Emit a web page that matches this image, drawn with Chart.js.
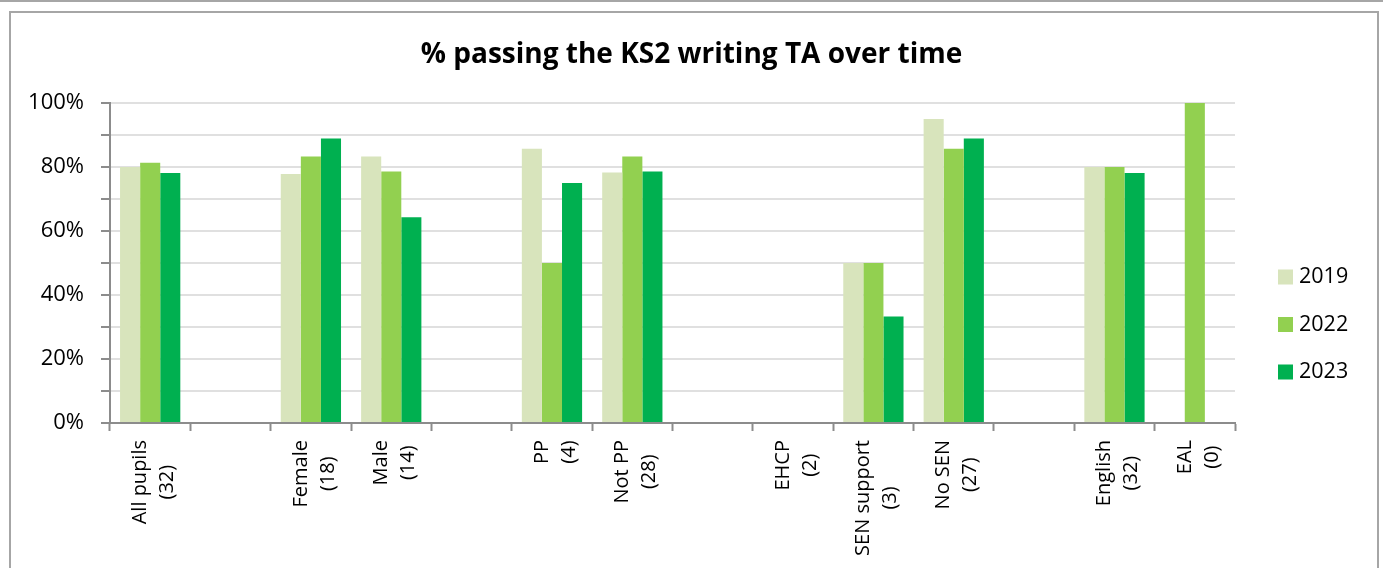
<!DOCTYPE html>
<html>
<head>
<meta charset="utf-8">
<script src="https://cdn.jsdelivr.net/npm/chart.js@4/dist/chart.umd.min.js"></script>
<style>
  html, body { margin: 0; padding: 0; background: #fff; }
  #wrap { position: relative; width: 1383px; height: 568px; overflow: hidden; }
  #topline { position: absolute; left: 0; top: 0; width: 1383px; height: 0; border-top: 2px solid #a6a6a6; }
  #topline2 { position: absolute; left: 1px; top: 0; width: 0; height: 2px; border-left: 2px solid #a6a6a6; }
  #frame { position: absolute; left: 9px; top: 11px; width: 1366px; height: 600px; border: 2px solid #a6a6a6; }
  canvas { position: absolute; left: 0; top: 0; }
</style>
</head>
<body>
<div id="wrap">
  <div id="topline"></div>
  <div id="topline2"></div>
  <div id="frame"></div>
  <canvas id="chart" width="1383" height="568"></canvas>
</div>
<script>
// category labels (blank slots separate the groups)
const categories = [
    ['All pupils', '(32)'], '', ['Female', '(18)'], ['Male', '(14)'], '',
    ['PP', '(4)'], ['Not PP', '(28)'], '', ['EHCP', '(2)'], ['SEN support', '(3)'],
    ['No SEN', '(27)'], '', ['English', '(32)'], ['EAL', '(0)']
];

const years = ['2019', '2022', '2023'];
const colors = ['#d8e4bc', '#92d050', '#00b050'];

const values2019 = [80, null, 77.8, 83.3, null, 85.7, 78.3, null, null, 50, 95, null, 80, null];
const values2022 = [81.3, null, 83.3, 78.6, null, 50, 83.3, null, null, 50, 85.7, null, 80, 100];
const values2023 = [78.1, null, 88.9, 64.3, null, 75, 78.6, null, null, 33.3, 88.9, null, 78.1, null];

const yTicks = [0, 20, 40, 60, 80, 100];

const chartTitle = '% passing the KS2 writing TA over time';

const FONT = "'Open Sans', 'Noto Sans', sans-serif";

// title centred on the whole canvas, legend on the right
const decorations = {
    id: 'decorations',
    afterDraw(chart) {
        const ctx = chart.ctx;
        ctx.save();
        ctx.fillStyle = '#000';
        ctx.font = 'bold 28px ' + FONT;
        ctx.textAlign = 'center';
        ctx.textBaseline = 'middle';
        ctx.fillText(chartTitle, chart.width / 2, 55);

        ctx.font = '21.5px ' + FONT;
        ctx.textAlign = 'left';
        chart.data.datasets.forEach((ds, i) => {
            const y = 277 + i * 47.5;
            ctx.fillStyle = ds.backgroundColor;
            ctx.fillRect(1278, y - 7.5, 15, 15);
            ctx.fillStyle = '#000';
            ctx.fillText(ds.label, 1299, y);
        });
        ctx.restore();
    }
};

// rotated category labels, lines centred on each other like the original
const xLabels = {
    id: 'xLabels',
    afterDraw(chart) {
        const scale = chart.scales.x;
        const ctx = chart.ctx;
        const lineH = 27;
        ctx.save();
        ctx.font = '20px ' + FONT;
        ctx.fillStyle = '#000';
        ctx.textAlign = 'center';
        ctx.textBaseline = 'middle';
        chart.data.labels.forEach((lab, i) => {
            if (!lab) return;
            const lines = Array.isArray(lab) ? lab : [lab];
            const maxW = Math.max(...lines.map(l => ctx.measureText(l).width));
            const cx = scale.getPixelForTick(i) + 3.5;
            const cy = scale.top + 17 + maxW / 2;
            lines.forEach((line, j) => {
                const x = cx + (j - (lines.length - 1) / 2) * lineH;
                ctx.save();
                ctx.translate(x, cy);
                ctx.rotate(-Math.PI / 2);
                ctx.fillText(line, 0, 0);
                ctx.restore();
            });
        });
        ctx.restore();
    }
};

const datasets = [values2019, values2022, values2023].map((vals, i) => ({
    label: years[i],
    data: vals,
    backgroundColor: colors[i],
    borderWidth: 0,
    categoryPercentage: 0.75,
    barPercentage: 1.0
}));

const ctx = document.getElementById('chart').getContext('2d');
new Chart(ctx, {
    type: 'bar',
    data: { labels: categories, datasets: datasets },
    options: {
        responsive: false,
        animation: false,
        layout: { padding: { left: 10, right: 148, top: 103, bottom: 0 } },
        plugins: {
            legend: { display: false },
            tooltip: { enabled: false },
            title: { display: false }
        },
        scales: {
            x: {
                afterFit(scale) { scale.height = 145; },
                grid: {
                    offset: true,
                    drawOnChartArea: false,
                    drawTicks: true,
                    tickLength: 8,
                    tickColor: '#8c8c8c',
                    tickWidth: 2
                },
                border: { color: '#8c8c8c', width: 2 },
                ticks: { display: false, autoSkip: false }
            },
            y: {
                min: 0,
                max: 100,
                afterFit(scale) { scale.width = 100; },
                afterBuildTicks(scale) {
                    // minor ticks every 10%, labels only on the 20% steps
                    const t = [];
                    for (let v = 0; v <= 100; v += 10) t.push({ value: v });
                    scale.ticks = t;
                },
                grid: {
                    color: '#e0e0e0',
                    lineWidth: 2,
                    tickColor: '#8c8c8c',
                    tickWidth: 2,
                    tickLength: 9
                },
                border: { color: '#8c8c8c', width: 2 },
                ticks: {
                    padding: 17,
                    color: '#000',
                    font: { family: FONT, size: 22 },
                    callback: (v) => yTicks.includes(v) ? v + '%' : ''
                }
            }
        }
    },
    plugins: [decorations, xLabels]
});
</script>
</body>
</html>
